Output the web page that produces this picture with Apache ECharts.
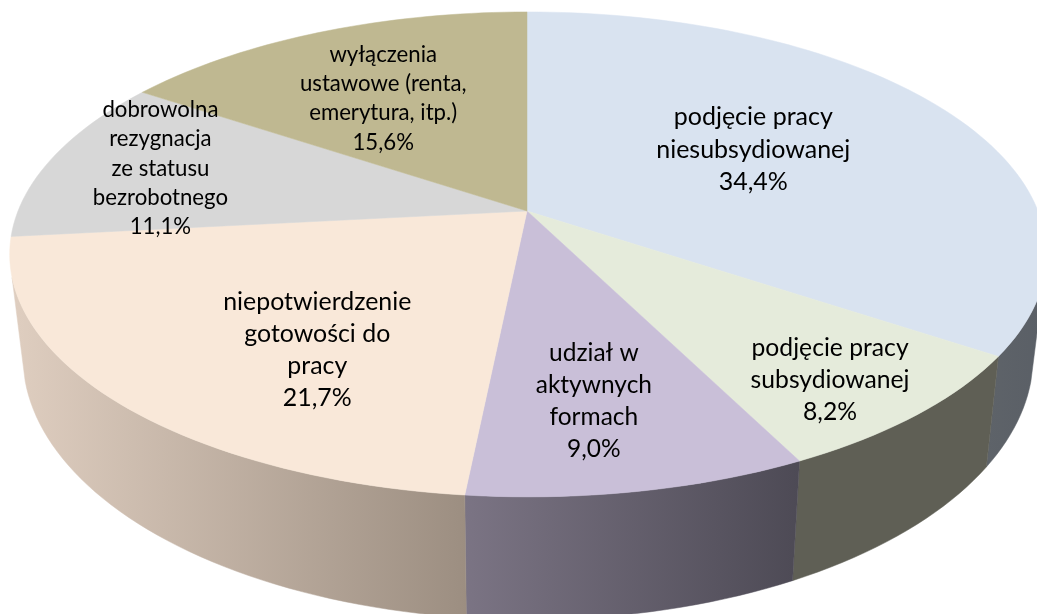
<!DOCTYPE html>
<html>
<head>
<meta charset="utf-8">
<style>html,body{margin:0;padding:0;background:#fff}#c{width:1037px;height:614px}</style>
<script src="https://cdn.jsdelivr.net/npm/echarts@6/dist/echarts.min.js"></script>
</head>
<body>
<div id="c"></div>
<script>
// data, clockwise from 12 o'clock
const categories = [
  'podjęcie pracy\nniesubsydiowanej',
  'podjęcie pracy\nsubsydiowanej',
  'udział w\naktywnych\nformach',
  'niepotwierdzenie\ngotowości do\npracy',
  'dobrowolna\nrezygnacja\nze statusu\nbezrobotnego',
  'wyłączenia\nustawowe (renta,\nemerytura, itp.)'
];
const values = [34.4, 8.2, 9.0, 21.7, 11.1, 15.6];

// styles
const faceColors = ['#D9E3F0', '#E5EBDB', '#C9BFD8', '#F9E8D9', '#D7D7D7', '#BFB891'];
const wallFrom = ['#5E6369', '#5F5F55', '#7B7484', '#DFCEC0', '#888888', '#777777'];
const wallTo = ['#5A5F66', '#5F5F55', '#4D4A55', '#9C8E81', '#888888', '#777777'];
const labelAngle = [59.6, 140.5, 170.8, 214.8, 284.1, 329.5];
const labelRadius = [0.539, 0.8266, 0.716, 0.652, 0.767, 0.608];
const labelFont = [25, 24.7, 24.5, 24.9, 22.2, 22.2];
const labelLine = [32.5, 32, 32, 32, 29.3, 29.3];

// perspective disc geometry
const top3d = {cx: 527, cy: 211, a: 234.7, b: 510, k: -0.179, m: -0.002};
const base3d = {cx: 527, cy: 309, a: 255, b: 497, k: -0.179, m: -0.002};
const silhouette = [105.7, 254.3];

function project(g, deg, r) {
  const t = deg * Math.PI / 180;
  const u = Math.sin(t) * r, v = -Math.cos(t) * r;
  const den = 1 + g.k * v + g.m * u;
  return [g.cx + g.b * u / den, g.cy + g.a * v / den];
}
function arc(g, from, to) {
  const n = Math.max(2, Math.ceil(Math.abs(to - from) / 1.5));
  const pts = [];
  for (let i = 0; i <= n; i++) pts.push(project(g, from + (to - from) * i / n, 1));
  return pts;
}
const total = values.reduce((s, v) => s + v, 0);
function range(i) {
  let s = 0;
  for (let j = 0; j < i; j++) s += values[j];
  return [s / total * 360, (s + values[i]) / total * 360];
}
const seriesData = values.map((v, i) => [i, v]);

const option = {
  animation: false,
  backgroundColor: '#ffffff',
  series: [
    {
      type: 'custom', coordinateSystem: 'none', z: 1, silent: true, data: seriesData,
      renderItem(params, api) {
        const i = api.value(0);
        const [s, e] = range(i);
        const from = Math.max(s, silhouette[0]), to = Math.min(e, silhouette[1]);
        if (to <= from) return {type: 'group', children: []};
        const points = arc(top3d, from, to).concat(arc(base3d, to, from));
        const fill = new echarts.graphic.LinearGradient(0, 0, 1, 0, [
          {offset: 0, color: wallFrom[i]}, {offset: 1, color: wallTo[i]}
        ]);
        return {type: 'polygon', shape: {points}, style: {fill, stroke: fill, lineWidth: 0.5}};
      }
    },
    {
      type: 'custom', coordinateSystem: 'none', z: 2, silent: true, data: seriesData,
      renderItem(params, api) {
        const i = api.value(0);
        const [s, e] = range(i);
        const points = [[top3d.cx, top3d.cy]].concat(arc(top3d, s, e));
        return {type: 'polygon', shape: {points},
          style: {fill: faceColors[i], stroke: faceColors[i], lineWidth: 0.5}};
      }
    },
    {
      type: 'custom', coordinateSystem: 'none', z: 3, silent: true, data: seriesData,
      renderItem(params, api) {
        const i = api.value(0);
        const p = project(top3d, labelAngle[i], labelRadius[i]);
        const text = categories[i] + '\n' + api.value(1).toFixed(1).replace('.', ',') + '%';
        return {type: 'text', x: p[0], y: p[1], style: {
          text, fill: '#000000', align: 'center', verticalAlign: 'middle',
          font: labelFont[i] + 'px Lato', lineHeight: labelLine[i]
        }};
      }
    }
  ]
};
const chart = echarts.init(document.getElementById('c'), null, {renderer: 'canvas'});
chart.setOption(option);
</script>
</body>
</html>
